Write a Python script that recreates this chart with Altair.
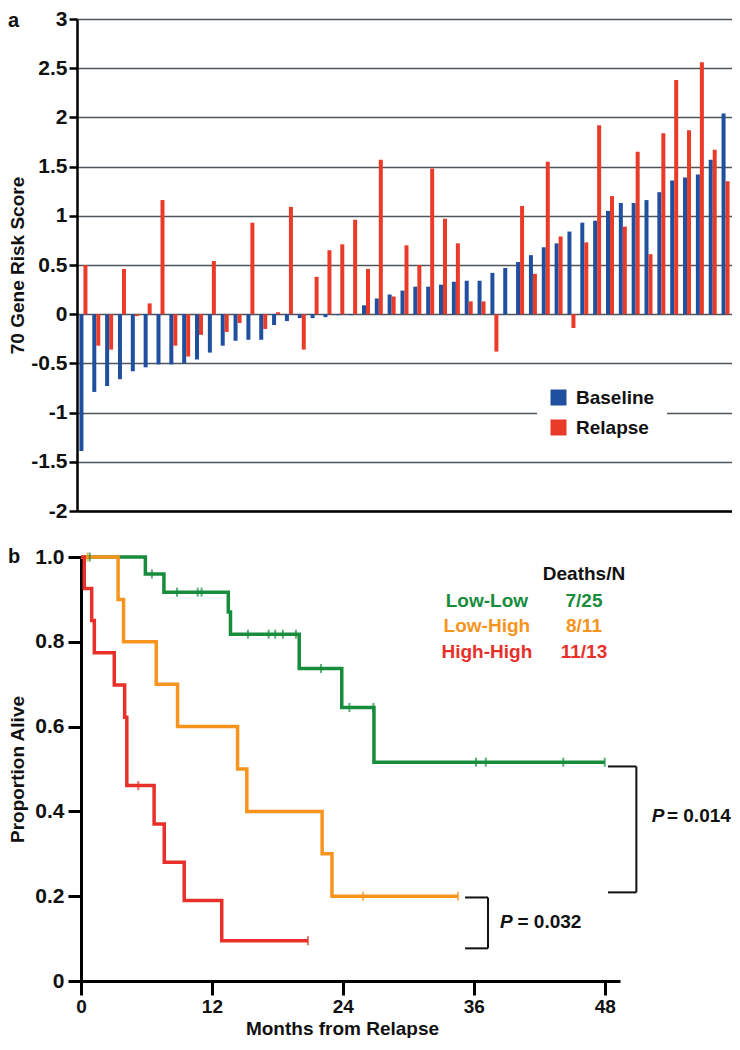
import altair as alt
import pandas as pd

# ---------------- panel a data ----------------
pairs = list(range(1, 52))
baseline = [-1.39, -0.79, -0.73, -0.66, -0.58, -0.54, -0.51, -0.51, -0.50, -0.46,
            -0.39, -0.32, -0.27, -0.26, -0.26, -0.11, -0.07, -0.04, -0.04, -0.03,
            -0.01, -0.01, 0.09, 0.16, 0.20, 0.24, 0.28, 0.28, 0.30, 0.33,
            0.34, 0.34, 0.42, 0.47, 0.53, 0.60, 0.68, 0.72, 0.84, 0.93,
            0.95, 1.05, 1.13, 1.13, 1.16, 1.24, 1.36, 1.39, 1.42, 1.57, 2.04]
relapse = [0.50, -0.32, -0.36, 0.46, -0.02, 0.11, 1.16, -0.32, -0.43, -0.21,
           0.54, -0.18, -0.09, 0.93, -0.15, 0.02, 1.09, -0.36, 0.38, 0.65,
           0.71, 0.96, 0.46, 1.57, 0.18, 0.70, 0.50, 1.48, 0.97, 0.72,
           0.13, 0.13, -0.38, None, 1.10, 0.41, 1.55, 0.79, -0.14, 0.73,
           1.92, 1.20, 0.89, 1.65, 0.61, 1.84, 2.38, 1.87, 2.56, 1.67, 1.35]
series = ["Baseline", "Relapse"]
bar_colors = ["#1f4f9f", "#ea3b29"]
y_ticks_a = [3, 2.5, 2, 1.5, 1, 0.5, 0, -0.5, -1, -1.5, -2]

# ---------------- panel b data ----------------
groups = ["Low-Low", "Low-High", "High-High"]
deaths_n = ["7/25", "8/11", "11/13"]
km_colors = ["#168c3c", "#f7941d", "#e8302a"]

green_t = [0, 5.9, 7.6, 13.5, 13.7, 20.0, 23.9, 26.85, 48.0]
green_s = [1.0, 0.96, 0.917, 0.870, 0.818, 0.737, 0.645, 0.516, 0.516]
green_cens_t = [0.8, 6.5, 8.8, 10.7, 11.05, 15.3, 17.2, 17.8, 18.5, 19.7, 22.0,
                24.6, 26.8, 36.2, 37.1, 44.2, 48.0]
green_cens_s = [1.0, 0.96, 0.917, 0.917, 0.917, 0.818, 0.818, 0.818, 0.818, 0.818,
                0.737, 0.645, 0.645, 0.516, 0.516, 0.516, 0.516]

orange_t = [0, 3.4, 3.9, 6.9, 8.85, 14.35, 15.2, 22.1, 23.0, 34.55]
orange_s = [1.0, 0.9, 0.8, 0.7, 0.6, 0.5, 0.4, 0.3, 0.2, 0.2]
orange_cens_t = [0.6, 25.85, 34.55]
orange_cens_s = [1.0, 0.2, 0.2]

red_t = [0, 0.3, 0.98, 1.22, 3.05, 4.0, 4.2, 6.7, 7.63, 9.46, 12.9, 20.8]
red_s = [1.0, 0.926, 0.85, 0.774, 0.698, 0.622, 0.461, 0.37, 0.28, 0.19, 0.095, 0.095]
red_cens_t = [5.25, 20.8]
red_cens_s = [0.461, 0.095]

x_ticks_b = [0, 12, 24, 36, 48]
y_ticks_b = [0, 0.2, 0.4, 0.6, 0.8, 1.0]
p_values = ["0.032", "0.014"]

FONT = "Liberation Sans"
FS = 19
FS_Y = 21

# ---------------- build tables ----------------
bar_rows = []
for p, b, r in zip(pairs, baseline, relapse):
    bar_rows.append({"pair": p, "series": "Baseline", "score": b})
    bar_rows.append({"pair": p, "series": "Relapse", "score": r})
bars_df = pd.DataFrame(bar_rows)

km_rows, cens_rows = [], []
for g, ts, ss in zip(groups, [green_t, orange_t, red_t], [green_s, orange_s, red_s]):
    for i, (t, s) in enumerate(zip(ts, ss)):
        km_rows.append({"group": g, "t": t, "s": s, "order": i})
for g, ts, ss in zip(groups, [green_cens_t, orange_cens_t, red_cens_t],
                     [green_cens_s, orange_cens_s, red_cens_s]):
    for t, s in zip(ts, ss):
        cens_rows.append({"group": g, "t": t, "s": s})
km_df = pd.DataFrame(km_rows)
cens_df = pd.DataFrame(cens_rows)
one = pd.DataFrame({"k": [0]})

# ---------------- panel a ----------------
W_A, H_A = 655, 492
bars = alt.Chart(bars_df).mark_bar().encode(
    x=alt.X("pair:O", scale=alt.Scale(paddingInner=0.377, paddingOuter=0.19),
            axis=alt.Axis(labels=False, ticks=False, title=None, domainColor="black",
                          domainWidth=2.5, grid=False)),
    xOffset=alt.XOffset("series:N", scale=alt.Scale(domain=series, paddingInner=0, paddingOuter=0)),
    y=alt.Y("score:Q", scale=alt.Scale(domain=[-2, 3], nice=False),
            axis=alt.Axis(values=y_ticks_a, labelExpr="'' + datum.value",
                          title="70 Gene Risk Score", titleFontSize=FS, titleFontWeight="bold",
                          titleColor="#111", titleX=-59.5, titleBaseline="middle",
                          labelFontSize=FS_Y, labelFontWeight="bold", labelColor="#111",
                          labelPadding=2, tickSize=8, tickWidth=2.5, tickColor="black",
                          domainColor="black", domainWidth=2.5,
                          gridColor="#4d545c", gridWidth=1.5)),
    color=alt.Color("series:N", scale=alt.Scale(domain=series, range=bar_colors),
                    legend=alt.Legend(orient="none", legendX=460, legendY=357, title=None,
                                      symbolType="square", symbolSize=256, symbolStrokeWidth=0,
                                      symbolOpacity=1, labelFontSize=FS, labelFontWeight="bold",
                                      labelColor="#111", fillColor="white", padding=12,
                                      rowPadding=10, labelOffset=8)),
)
label_a = alt.Chart(one).mark_text(text="a", align="left", baseline="middle", fontSize=20,
                                   fontWeight="bold", color="#111").encode(
    x=alt.value(-69), y=alt.value(2))
panel_a = alt.layer(bars, label_a).properties(width=W_A, height=H_A)

# ---------------- panel b ----------------
W_B, H_B = 543, 424
xs = alt.Scale(domain=[-0.366, 49.4], nice=False, zero=False)
ys = alt.Scale(domain=[0, 1.0], nice=False)
km_color = alt.Color("group:N", scale=alt.Scale(domain=groups, range=km_colors), legend=None)

lines = alt.Chart(km_df).mark_line(interpolate="step-after", strokeWidth=3.5).encode(
    x=alt.X("t:Q", scale=xs,
            axis=alt.Axis(values=x_ticks_b, title="Months from Relapse", titleFontSize=FS,
                          titleFontWeight="bold", titleColor="#111", titleX=265, titlePadding=3,
                          labelFontSize=FS, labelFontWeight="bold", labelColor="#111",
                          labelPadding=2, tickSize=14, tickWidth=3, tickColor="black",
                          domainColor="black", domainWidth=3, grid=False, labelFlush=False)),
    y=alt.Y("s:Q", scale=ys,
            axis=alt.Axis(values=y_ticks_b,
                          labelExpr="datum.value == 0 ? '0' : format(datum.value, '.1f')",
                          title="Proportion Alive", titleFontSize=FS, titleFontWeight="bold",
                          titleColor="#111", titleX=-63.5, titleBaseline="middle",
                          labelFontSize=FS_Y, labelFontWeight="bold", labelColor="#111",
                          labelPadding=4, tickSize=13, tickWidth=3, tickColor="black",
                          domainColor="black", domainWidth=3, grid=False, offset=-4)),
    color=km_color,
    order="order:Q",
)
cens = alt.Chart(cens_df).mark_tick(orient="vertical", size=9, thickness=2).encode(
    x=alt.X("t:Q", scale=xs),
    y=alt.Y("s:Q", scale=ys),
    color=km_color,
)


def txt(s, t, v, color, align="center", style="normal", size=FS):
    return alt.Chart(one).mark_text(text=s, align=align, baseline="middle", fontSize=size,
                                    fontWeight="bold", fontStyle=style, color=color).encode(
        x=alt.datum(t), y=alt.datum(v))


def rule(x1, x2, y1, y2):
    return alt.Chart(one).mark_rule(color="#111", strokeWidth=2).encode(
        x=alt.datum(x1), x2=alt.datum(x2), y=alt.datum(y1), y2=alt.datum(y2))


annot = [txt("Deaths/N", 46.1, 0.96, "#111")]
for g, d, c, v in zip(groups, deaths_n, km_colors, [0.897, 0.837, 0.776]):
    annot.append(txt(g, 37.2, v, c))
    annot.append(txt(d, 46.1, v, c))

brackets = [
    rule(35.2, 37.3, 0.197, 0.197), rule(35.2, 37.3, 0.077, 0.077), rule(37.3, 37.3, 0.077, 0.197),
    rule(48.3, 50.9, 0.506, 0.506), rule(48.3, 50.9, 0.209, 0.209), rule(50.9, 50.9, 0.209, 0.506),
]
ptexts = [
    txt("P", 38.4, 0.138, "#111", align="left", style="italic"),
    txt("= " + p_values[0], 40.0, 0.138, "#111", align="left"),
    txt("P", 52.3, 0.39, "#111", align="left", style="italic"),
    txt("= " + p_values[1], 53.7, 0.39, "#111", align="left"),
]
label_b = alt.Chart(one).mark_text(text="b", align="left", baseline="middle", fontSize=20,
                                   fontWeight="bold", color="#111").encode(
    x=alt.value(-69), y=alt.value(0))

panel_b = alt.layer(lines, cens, *annot, *brackets, *ptexts, label_b).properties(
    width=W_B, height=H_B)

chart = alt.vconcat(panel_a, panel_b, spacing=25).resolve_scale(
    color="independent").resolve_legend(color="independent").properties(
    padding=0).configure(font=FONT).configure_view(strokeWidth=0)

chart.save("out.html", embed_options={"renderer": "svg", "actions": False})
